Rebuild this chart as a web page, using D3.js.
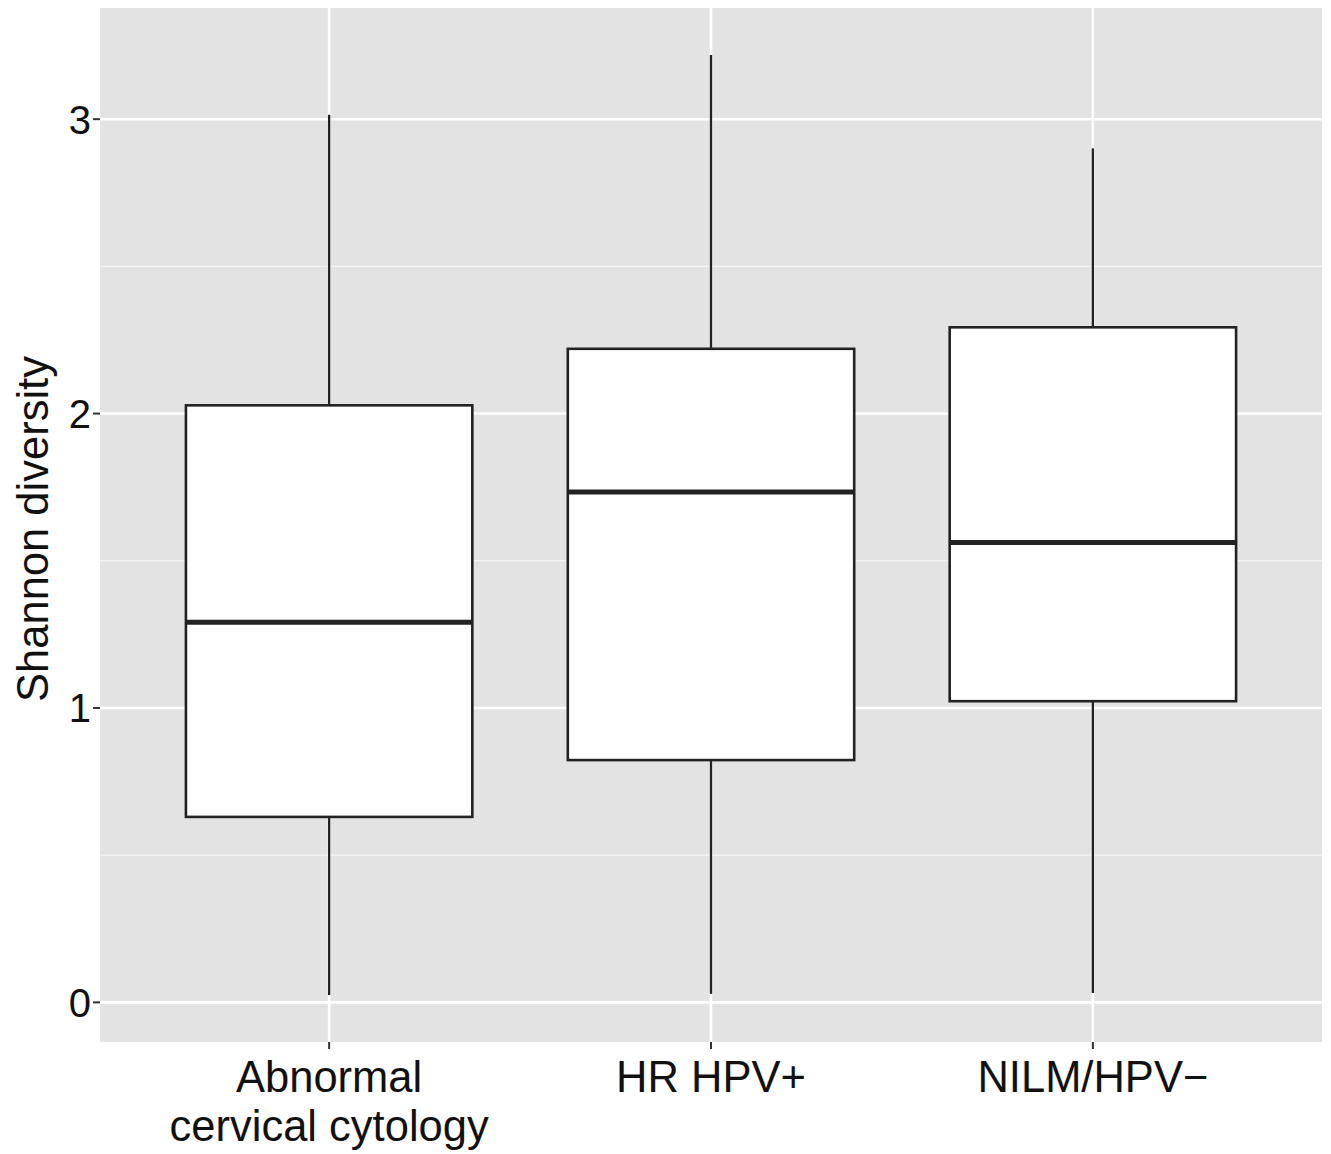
<!DOCTYPE html>
<html>
<head>
<meta charset="utf-8">
<script src="https://cdn.jsdelivr.net/npm/d3@7"></script>
<style>
  html, body { margin: 0; padding: 0; background: #fff; }
  svg text { font-family: "Liberation Sans", Arial, Helvetica, sans-serif; }
</style>
</head>
<body>
<svg id="chart" width="1331" height="1154"></svg>
<script>
// Groups and five-number summaries of Shannon diversity
const groups = [["Abnormal", "cervical cytology"], ["HR HPV+"], ["NILM/HPV\u2212"]];
const groupKeys = ["Abnormal cervical cytology", "HR HPV+", "NILM/HPV\u2212"];
const whiskerLow = [0.025, 0.029, 0.032];
const q1 = [0.630, 0.823, 1.023];
const median = [1.291, 1.734, 1.562];
const q3 = [2.028, 2.220, 2.293];
const whiskerHigh = [3.015, 3.218, 2.901];
const yTicks = [0, 1, 2, 3];
const yMinor = [0.5, 1.5, 2.5];

const svg = d3.select("#chart");
const margin = { left: 100, right: 9, top: 8, bottom: 112 };
const W = 1331, H = 1154;
const x0 = margin.left, x1 = W - margin.right;
const y0 = margin.top, y1 = H - margin.bottom;

// Continuous y with 5% expansion of the data range
const lo = d3.min(whiskerLow), hi = d3.max(whiskerHigh);
const pad = (hi - lo) * 0.05;
const y = d3.scaleLinear().domain([lo - pad, hi + pad]).range([y1, y0]);

// Discrete x: positions 1..n with 0.6 padding each side
const xc = d3.scaleLinear().domain([0.4, groups.length + 0.6]).range([x0, x1]);
const boxHalf = (xc(1.375) - xc(1));

// Panel background
svg.append("rect").attr("x", x0).attr("y", y0)
  .attr("width", x1 - x0).attr("height", y1 - y0).attr("fill", "#e3e3e4");

// Grid
svg.selectAll(".minor").data(yMinor).enter().append("line")
  .attr("x1", x0).attr("x2", x1).attr("y1", d => y(d)).attr("y2", d => y(d))
  .attr("stroke", "#f4f4f4").attr("stroke-width", 1.3);
svg.selectAll(".major").data(yTicks).enter().append("line")
  .attr("x1", x0).attr("x2", x1).attr("y1", d => y(d)).attr("y2", d => y(d))
  .attr("stroke", "#fff").attr("stroke-width", 2.6);
svg.selectAll(".vmajor").data(groups).enter().append("line")
  .attr("x1", (d, i) => xc(i + 1)).attr("x2", (d, i) => xc(i + 1))
  .attr("y1", y0).attr("y2", y1)
  .attr("stroke", "#fff").attr("stroke-width", 2.6);

// Boxes
const g = svg.selectAll(".box").data(groupKeys).enter().append("g");
g.append("line")
  .attr("x1", (d, i) => xc(i + 1)).attr("x2", (d, i) => xc(i + 1))
  .attr("y1", (d, i) => y(whiskerHigh[i])).attr("y2", (d, i) => y(q3[i]))
  .attr("stroke", "#222").attr("stroke-width", 2.3);
g.append("line")
  .attr("x1", (d, i) => xc(i + 1)).attr("x2", (d, i) => xc(i + 1))
  .attr("y1", (d, i) => y(q1[i])).attr("y2", (d, i) => y(whiskerLow[i]))
  .attr("stroke", "#222").attr("stroke-width", 2.3);
g.append("rect")
  .attr("x", (d, i) => xc(i + 1) - boxHalf).attr("width", 2 * boxHalf)
  .attr("y", (d, i) => y(q3[i])).attr("height", (d, i) => y(q1[i]) - y(q3[i]))
  .attr("fill", "#fff").attr("stroke", "#222").attr("stroke-width", 2.6);
g.append("line")
  .attr("x1", (d, i) => xc(i + 1) - boxHalf).attr("x2", (d, i) => xc(i + 1) + boxHalf)
  .attr("y1", (d, i) => y(median[i])).attr("y2", (d, i) => y(median[i]))
  .attr("stroke", "#222").attr("stroke-width", 5);

// Y axis ticks and labels
svg.selectAll(".ytick").data(yTicks).enter().append("line")
  .attr("x1", x0 - 7).attr("x2", x0).attr("y1", d => y(d)).attr("y2", d => y(d))
  .attr("stroke", "#333").attr("stroke-width", 2);
svg.selectAll(".ylab").data(yTicks).enter().append("text")
  .attr("x", x0 - 9).attr("y", d => y(d)).attr("dy", "0.36em")
  .attr("text-anchor", "end").attr("font-size", 40).attr("fill", "#111")
  .text(d3.format("d"));

// X axis ticks and labels
svg.selectAll(".xtick").data(groups).enter().append("line")
  .attr("x1", (d, i) => xc(i + 1)).attr("x2", (d, i) => xc(i + 1))
  .attr("y1", y1).attr("y2", y1 + 7)
  .attr("stroke", "#333").attr("stroke-width", 2);
const xl = svg.selectAll(".xlab").data(groups).enter().append("text")
  .attr("text-anchor", "middle").attr("font-size", 43.5).attr("fill", "#111");
xl.each(function (lines, i) {
  const t = d3.select(this);
  lines.forEach((s, k) => {
    t.append("tspan").attr("x", xc(i + 1)).attr("y", 1092 + k * 49).text(s);
  });
});

// Y axis title
svg.append("text")
  .attr("transform", `translate(48,${(y0 + y1) / 2 + 4}) rotate(-90)`)
  .attr("text-anchor", "middle").attr("font-size", 43.5).attr("fill", "#111")
  .text("Shannon diversity");
</script>
</body>
</html>
